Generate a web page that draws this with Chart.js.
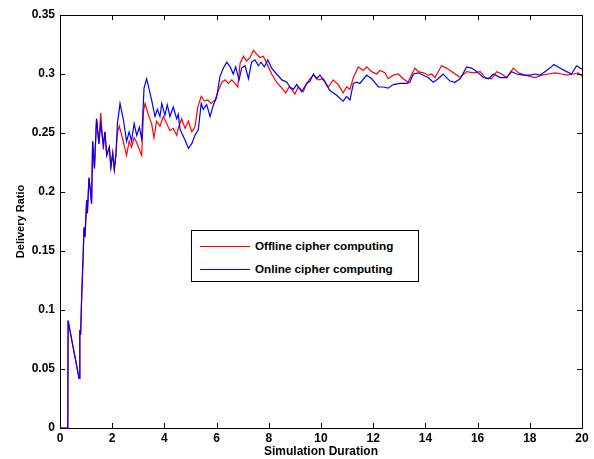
<!DOCTYPE html>
<html>
<head>
<meta charset="utf-8">
<script src="https://cdn.jsdelivr.net/npm/chart.js@4"></script>
<style>
  body { margin: 0; background: #fff; }
  #wrap { position: relative; width: 594px; height: 459px; }
  #legend {
    position: absolute; left: 191px; top: 230px; width: 228px; height: 52px;
    border: 1px solid #000; background: #fff; box-sizing: border-box;
    font: bold 11.7px "Liberation Sans", Arial, sans-serif; color: #000;
  }
  #legend div { position: absolute; left: 8px; height: 14px; line-height: 14px; white-space: nowrap; }
  #legend span { display: inline-block; width: 50px; height: 0; border-top: 1px solid; vertical-align: middle; margin-right: 5px; }
</style>
</head>
<body>
<div id="wrap">
  <canvas id="deliveryChart" width="594" height="459"></canvas>
  <div id="legend">
    <div style="top:8px"><span style="border-color:#ff0000"></span>Offline cipher computing</div>
    <div style="top:31px"><span style="border-color:#0000ff"></span>Online cipher computing</div>
  </div>
</div>
<script>
// values
const offlineX = [0, 0.3, 0.31, 0.73, 0.76, 0.79, 0.83, 0.89, 0.92, 0.96, 1.02, 1.05, 1.11, 1.15, 1.21, 1.25, 1.32, 1.4, 1.49, 1.56, 1.66, 1.72, 1.79, 1.89, 1.95, 2.02, 2.08, 2.14, 2.2, 2.27, 2.4, 2.55, 2.65, 2.74, 2.84, 2.94, 3.04, 3.13, 3.2, 3.26, 3.39, 3.51, 3.6, 3.7, 3.83, 3.96, 4.09, 4.21, 4.34, 4.47, 4.53, 4.66, 4.79, 4.92, 5.05, 5.17, 5.28, 5.41, 5.53, 5.66, 5.79, 5.94, 6.07, 6.2, 6.32, 6.45, 6.58, 6.71, 6.81, 6.9, 7.03, 7.15, 7.28, 7.41, 7.53, 7.66, 7.79, 7.92, 8.11, 8.3, 8.5, 8.65, 8.78, 8.88, 9.0, 9.13, 9.32, 9.45, 9.58, 9.71, 9.9, 10.09, 10.28, 10.47, 10.66, 10.85, 10.98, 11.11, 11.24, 11.43, 11.62, 11.75, 11.94, 12.13, 12.26, 12.45, 12.57, 12.77, 12.96, 13.15, 13.33, 13.6, 13.73, 13.92, 14.11, 14.24, 14.37, 14.62, 14.81, 15.07, 15.33, 15.58, 15.84, 16.1, 16.29, 16.54, 16.73, 16.92, 17.11, 17.37, 17.56, 17.82, 18.2, 18.46, 18.71, 18.97, 19.22, 19.41, 19.67, 19.86, 20];
const offlineY = [0, 0, 0.091, 0.042, 0.083, 0.079, 0.111, 0.148, 0.17, 0.162, 0.193, 0.182, 0.212, 0.204, 0.19, 0.243, 0.22, 0.262, 0.241, 0.267, 0.236, 0.251, 0.231, 0.238, 0.221, 0.233, 0.219, 0.231, 0.25, 0.256, 0.245, 0.231, 0.243, 0.238, 0.246, 0.242, 0.236, 0.231, 0.269, 0.275, 0.265, 0.258, 0.246, 0.26, 0.256, 0.264, 0.258, 0.252, 0.254, 0.248, 0.254, 0.262, 0.254, 0.26, 0.251, 0.255, 0.272, 0.281, 0.277, 0.278, 0.275, 0.278, 0.286, 0.293, 0.295, 0.292, 0.295, 0.292, 0.289, 0.309, 0.315, 0.311, 0.314, 0.32, 0.317, 0.314, 0.315, 0.309, 0.3, 0.293, 0.288, 0.284, 0.289, 0.287, 0.283, 0.289, 0.285, 0.292, 0.296, 0.299, 0.295, 0.296, 0.289, 0.295, 0.291, 0.284, 0.289, 0.287, 0.297, 0.306, 0.303, 0.306, 0.302, 0.3, 0.303, 0.301, 0.296, 0.299, 0.3, 0.296, 0.293, 0.305, 0.302, 0.301, 0.299, 0.3, 0.297, 0.307, 0.305, 0.301, 0.297, 0.302, 0.301, 0.302, 0.297, 0.296, 0.302, 0.3, 0.297, 0.305, 0.301, 0.299, 0.297, 0.299, 0.3, 0.301, 0.3, 0.299, 0.3, 0.301, 0.298];

const onlineX = [0, 0.3, 0.31, 0.73, 0.76, 0.79, 0.83, 0.89, 0.92, 0.96, 1.02, 1.05, 1.11, 1.15, 1.21, 1.25, 1.32, 1.4, 1.49, 1.56, 1.66, 1.72, 1.79, 1.89, 1.95, 2.02, 2.08, 2.14, 2.2, 2.3, 2.43, 2.55, 2.65, 2.74, 2.84, 2.94, 3.04, 3.13, 3.22, 3.32, 3.51, 3.64, 3.73, 3.83, 3.9, 4.02, 4.11, 4.21, 4.34, 4.47, 4.53, 4.6, 4.79, 4.92, 5.05, 5.17, 5.3, 5.41, 5.49, 5.62, 5.75, 5.88, 6.0, 6.13, 6.26, 6.39, 6.52, 6.64, 6.73, 6.86, 6.96, 7.09, 7.22, 7.34, 7.47, 7.6, 7.7, 7.83, 7.96, 8.11, 8.3, 8.5, 8.69, 8.81, 8.94, 9.07, 9.26, 9.45, 9.58, 9.71, 9.83, 9.96, 10.15, 10.34, 10.6, 10.85, 10.98, 11.11, 11.24, 11.37, 11.49, 11.75, 11.94, 12.2, 12.39, 12.57, 12.77, 13.03, 13.28, 13.4, 13.54, 13.73, 13.92, 14.11, 14.3, 14.49, 14.68, 14.94, 15.13, 15.33, 15.58, 15.77, 15.97, 16.22, 16.42, 16.61, 16.86, 17.11, 17.3, 17.5, 17.75, 18.0, 18.2, 18.39, 18.58, 18.77, 18.92, 19.15, 19.41, 19.6, 19.79, 20];
const onlineY = [0, 0, 0.091, 0.042, 0.083, 0.079, 0.111, 0.148, 0.17, 0.162, 0.193, 0.182, 0.212, 0.204, 0.19, 0.243, 0.22, 0.262, 0.241, 0.258, 0.24, 0.251, 0.231, 0.238, 0.221, 0.233, 0.219, 0.231, 0.258, 0.275, 0.261, 0.243, 0.251, 0.243, 0.258, 0.248, 0.255, 0.245, 0.288, 0.296, 0.278, 0.264, 0.27, 0.264, 0.275, 0.265, 0.274, 0.264, 0.272, 0.262, 0.266, 0.253, 0.244, 0.237, 0.241, 0.248, 0.253, 0.275, 0.27, 0.274, 0.264, 0.274, 0.28, 0.298, 0.305, 0.31, 0.306, 0.3, 0.306, 0.295, 0.305, 0.307, 0.296, 0.31, 0.312, 0.307, 0.31, 0.306, 0.312, 0.305, 0.3, 0.295, 0.293, 0.289, 0.287, 0.291, 0.285, 0.292, 0.294, 0.3, 0.296, 0.299, 0.293, 0.286, 0.282, 0.277, 0.281, 0.278, 0.292, 0.293, 0.292, 0.299, 0.296, 0.289, 0.289, 0.288, 0.291, 0.292, 0.292, 0.293, 0.3, 0.301, 0.299, 0.297, 0.293, 0.296, 0.3, 0.294, 0.293, 0.296, 0.306, 0.305, 0.302, 0.297, 0.296, 0.3, 0.297, 0.297, 0.302, 0.3, 0.299, 0.299, 0.3, 0.299, 0.302, 0.305, 0.308, 0.305, 0.302, 0.3, 0.307, 0.304];

const xTicks = [0, 2, 4, 6, 8, 10, 12, 14, 16, 18, 20];
const yTicks = [0, 0.05, 0.1, 0.15, 0.2, 0.25, 0.3, 0.35];

const toPoints = (xs, ys) => xs.map((x, i) => ({ x: x, y: ys[i] }));

// matlab style box with inward ticks
const boxTicks = {
  id: 'boxTicks',
  afterDraw(chart) {
    const c = chart.ctx, a = chart.chartArea;
    const xs = chart.scales.x, ys = chart.scales.y;
    c.save();
    c.strokeStyle = '#000';
    c.lineWidth = 1;
    c.strokeRect(Math.round(a.left) + 0.5, Math.round(a.top) + 0.5, Math.round(a.right - a.left), Math.round(a.bottom - a.top));
    c.beginPath();
    xTicks.forEach(v => {
      const px = Math.round(xs.getPixelForValue(v)) + 0.5;
      c.moveTo(px, a.bottom); c.lineTo(px, a.bottom - 5);
      c.moveTo(px, a.top); c.lineTo(px, a.top + 5);
    });
    yTicks.forEach(v => {
      const py = Math.round(ys.getPixelForValue(v)) + 0.5;
      c.moveTo(a.left, py); c.lineTo(a.left + 5, py);
      c.moveTo(a.right, py); c.lineTo(a.right - 5, py);
    });
    c.stroke();
    c.restore();
  }
};

const ctx = document.getElementById('deliveryChart').getContext('2d');
const deliveryChart = new Chart(ctx, {
  type: 'scatter',
  data: {
    datasets: [
      {
        label: 'Offline cipher computing',
        data: toPoints(offlineX, offlineY),
        showLine: true,
        borderColor: '#ff0000',
        borderWidth: 1.2,
        pointRadius: 0,
        tension: 0,
        order: 2
      },
      {
        label: 'Online cipher computing',
        data: toPoints(onlineX, onlineY),
        showLine: true,
        borderColor: '#0000ff',
        borderWidth: 1.2,
        pointRadius: 0,
        tension: 0,
        order: 1
      }
    ]
  },
  options: {
    responsive: false,
    animation: false,
    layout: { padding: { left: 0, right: 12, top: 15, bottom: 0 } },
    plugins: { legend: { display: false }, tooltip: { enabled: false } },
    scales: {
      x: {
        type: 'linear',
        min: 0, max: 20,
        afterBuildTicks: s => { s.ticks = xTicks.map(v => ({ value: v })); },
        afterFit: s => { s.height = 31; },
        grid: { display: false, drawTicks: false },
        border: { display: false },
        ticks: {
          padding: 3,
          color: '#000',
          font: { family: 'Liberation Sans', size: 12, weight: 'bold' }
        },
        title: {
          display: true,
          text: 'Simulation Duration',
          color: '#000',
          padding: 0,
          font: { family: 'Liberation Sans', size: 12, weight: 'bold' }
        }
      },
      y: {
        type: 'linear',
        min: 0, max: 0.35,
        afterBuildTicks: s => { s.ticks = yTicks.map(v => ({ value: v })); },
        afterFit: s => { s.width = 60; },
        grid: { display: false, drawTicks: false },
        border: { display: false },
        ticks: {
          padding: 5,
          color: '#000',
          font: { family: 'Liberation Sans', size: 12, weight: 'bold' },
          callback: v => String(Math.round(v * 100) / 100)
        },
        title: {
          display: true,
          text: 'Delivery Ratio',
          color: '#000',
          padding: { top: 14, bottom: 0 },
          font: { family: 'Liberation Sans', size: 11, weight: 'bold' }
        }
      }
    }
  },
  plugins: [boxTicks]
});
</script>
</body>
</html>
